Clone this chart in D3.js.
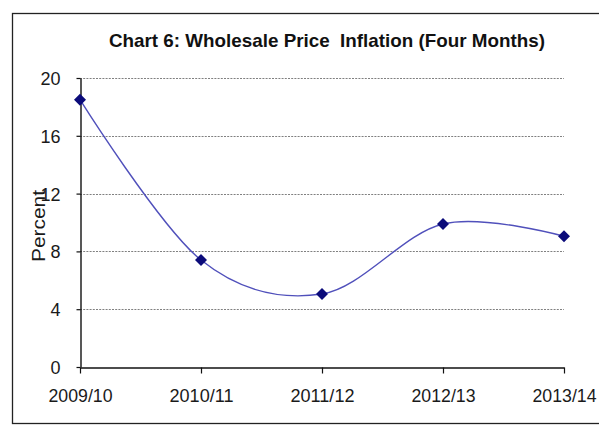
<!DOCTYPE html>
<html>
<head>
<meta charset="utf-8">
<script src="https://cdn.jsdelivr.net/npm/d3@7"></script>
<style>
  html, body { margin: 0; padding: 0; background: #fff; }
  svg { display: block; }
  text { font-family: "Liberation Sans", Arial, sans-serif; }
</style>
</head>
<body>
<svg id="chart" width="599" height="426"></svg>
<script>
// Wholesale price inflation, first four months of each fiscal year
const years = ["2009/10", "2010/11", "2011/12", "2012/13", "2013/14"];
const inflation = [18.5, 7.4, 5.05, 9.9, 9.05];
const yTicks = [0, 4, 8, 12, 16, 20];

const svg = d3.select("#chart");
const plot = { left: 80, right: 564, top: 78, bottom: 367 };

// outer chart frame (right side runs past the canvas)
svg.append("rect")
  .attr("x", 12.5).attr("y", 13.5)
  .attr("width", 620).attr("height", 410)
  .attr("fill", "#fff").attr("stroke", "#222").attr("stroke-width", 1.3);

const x = d3.scalePoint().domain(years).range([plot.left, plot.right]);
const y = d3.scaleLinear().domain([0, 20]).range([plot.bottom, plot.top]);

// horizontal dashed gridlines
svg.append("g")
  .selectAll("line")
  .data(yTicks.filter(d => d > 0))
  .join("line")
  .attr("x1", plot.left).attr("x2", plot.right)
  .attr("y1", d => Math.round(y(d)) + 0.5).attr("y2", d => Math.round(y(d)) + 0.5)
  .attr("stroke", "#808080").attr("stroke-width", 1)
  .attr("stroke-dasharray", "2,1.2");

// y axis
const yAxis = svg.append("g")
  .attr("transform", `translate(${plot.left + 0.5},0)`)
  .call(d3.axisLeft(y).tickValues(yTicks).tickSize(4).tickSizeOuter(0).tickPadding(16));
yAxis.select(".domain").attr("stroke", "#111").attr("stroke-width", 1.4);
yAxis.selectAll(".tick line").attr("stroke", "#111").attr("stroke-width", 1.2);
yAxis.selectAll(".tick text")
  .attr("font-size", 18).attr("fill", "#1a1a1a")
  .attr("font-family", "\"Liberation Sans\", Arial, sans-serif")
  .attr("dy", "0.36em");

// x axis
const xAxis = svg.append("g")
  .attr("transform", `translate(0,${plot.bottom + 0.5})`)
  .call(d3.axisBottom(x).tickSize(6).tickSizeOuter(0).tickPadding(23));
xAxis.select(".domain").attr("stroke", "#111").attr("stroke-width", 1.4);
xAxis.selectAll(".tick line").attr("stroke", "#111").attr("stroke-width", 1.2);
xAxis.selectAll(".tick text")
  .attr("font-size", 18.5).attr("fill", "#1a1a1a")
  .attr("font-family", "\"Liberation Sans\", Arial, sans-serif")
  .attr("dy", "0.3em")
  .attr("textLength", 64).attr("lengthAdjust", "spacingAndGlyphs");

// smoothed series line
const line = d3.line()
  .x((d, i) => x(years[i]))
  .y(d => y(d))
  .curve(d3.curveCatmullRom.alpha(0));
svg.append("path")
  .datum(inflation)
  .attr("d", line)
  .attr("fill", "none")
  .attr("stroke", "#5050bb")
  .attr("stroke-width", 1.4);

// diamond markers
const diamond = d3.symbol().type(d3.symbolDiamond2).size(92);
svg.append("g")
  .selectAll("path")
  .data(inflation)
  .join("path")
  .attr("transform", (d, i) => `translate(${x(years[i])},${y(d)})`)
  .attr("d", diamond)
  .attr("fill", "#0b0b7a");

// title
svg.append("text")
  .attr("x", 327).attr("y", 47)
  .attr("text-anchor", "middle")
  .attr("font-weight", "bold")
  .attr("font-size", 19)
  .attr("fill", "#111")
  .attr("textLength", 436).attr("lengthAdjust", "spacingAndGlyphs")
  .style("white-space", "pre")
  .text("Chart 6: Wholesale Price  Inflation (Four Months)");

// y axis title
svg.append("text")
  .attr("transform", "translate(45,226) rotate(-90)")
  .attr("text-anchor", "middle")
  .attr("font-size", 18)
  .attr("fill", "#1a1a1a")
  .attr("textLength", 72).attr("lengthAdjust", "spacingAndGlyphs")
  .text("Percent");
</script>
</body>
</html>
